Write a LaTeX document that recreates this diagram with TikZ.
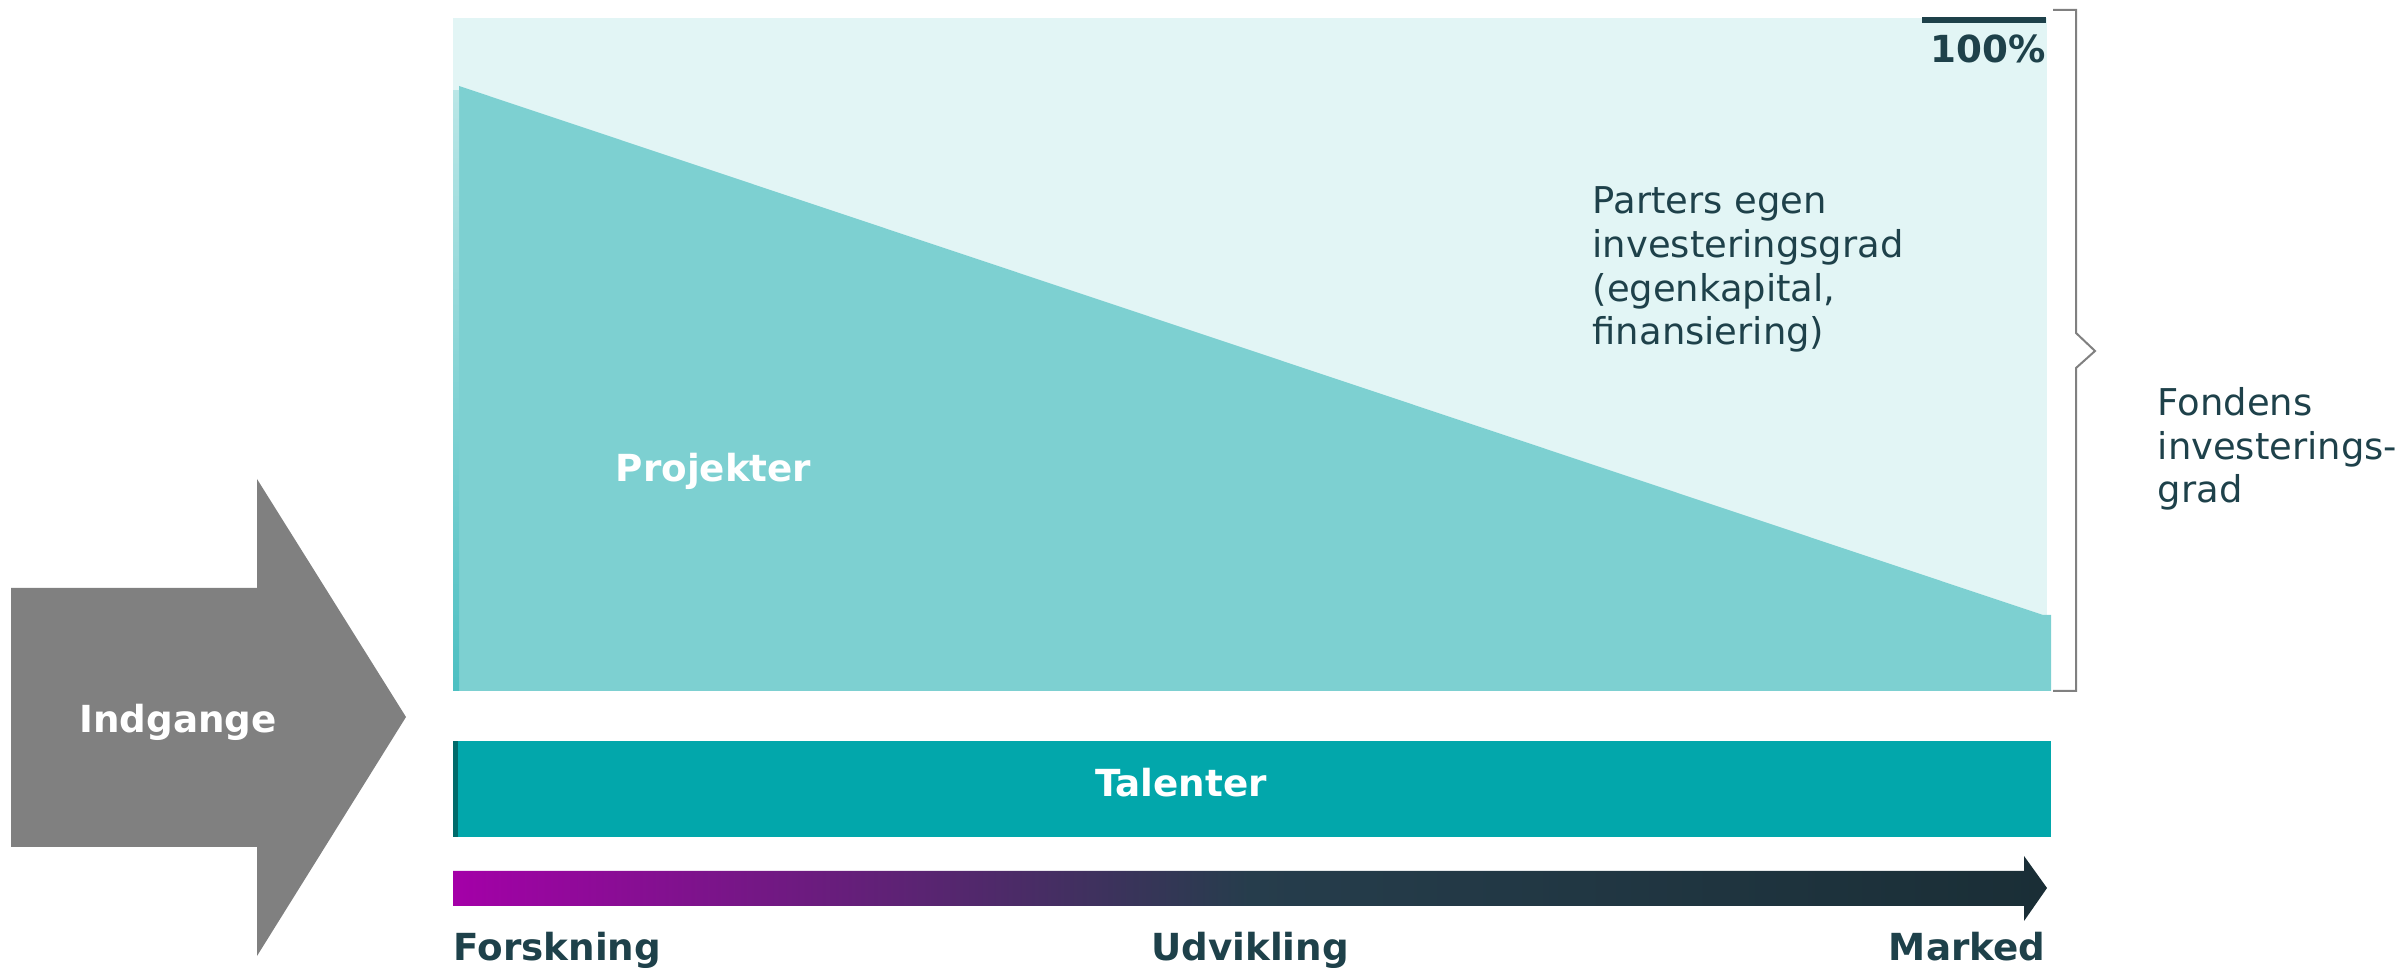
\documentclass[tikz,border=0pt]{standalone}
\usepackage{fontspec}
\setmainfont{DejaVu Sans}
\usepackage{tikz}

\definecolor{lightbg}{HTML}{E2F5F5}
\definecolor{projteal}{HTML}{7DD0D1}
\definecolor{talentteal}{HTML}{02A7AB}
\definecolor{darkteal}{HTML}{006B6B}
\definecolor{darktext}{HTML}{1E414A}
\definecolor{arrowgray}{HTML}{808080}
\definecolor{forskcol}{HTML}{A400A8}
\definecolor{udvcol}{HTML}{263D4C}
\definecolor{markcol}{HTML}{1A2E36}

\tikzset{
    bodytext/.style={font=\fontsize{10.5pt}{12.5pt}\selectfont, text=darktext, align=left, inner sep=0pt},
    boldtext/.style={font=\fontsize{10.6pt}{12.5pt}\selectfont\bfseries, inner sep=0pt},
}

\begin{document}
\begin{tikzpicture}[x=0.01cm, y=-0.01cm]
        \useasboundingbox (0,0) rectangle (2404,968);

        % Background of the investment area
        \fill[lightbg] (453,18) rectangle (2047,691);

        % Projects wedge
        \fill[projteal] (459,86) -- (2043,615) -- (2051,615) -- (2051,691) -- (459,691) -- cycle;
        \shade[top color=lightbg!60!projteal, bottom color=projteal!60!talentteal] (453,91) rectangle (459,691);
        \node[boldtext, text=white, anchor=base west] (projekter) at (615,482) {Projekter};

        % 100% marker
        \draw[darktext, line width=0.06cm] (1922,20) -- (2046,20);
        \node[boldtext, text=darktext, anchor=base east] (hundred) at (2046,63) {100\%};

        % Partners' own share (anchored at the last line)
        \node[bodytext, anchor=base west] (parters) at (1592,345)
            {Parters egen\\investeringsgrad\\(egenkapital,\\finansiering)};

        % Bracket for the fund's share
        \draw[arrowgray, line width=0.02cm] (2053,10) -- (2076,10) -- (2076,333) -- (2095,351)
            -- (2076,368) -- (2076,691) -- (2053,691);
        \node[bodytext, anchor=base west] (fondens) at (2157,503)
            {Fondens\\investerings-\\grad};

        % Talents bar
        \fill[talentteal] (453,741) rectangle (2051,837);
        \fill[darkteal] (453,741) rectangle (458,837);
        \node[boldtext, text=white, anchor=base] (talenter) at (1181,797) {Talenter};

        % Entry arrow
        \fill[arrowgray] (11,588) -- (257,588) -- (257,479) -- (406,717) -- (257,956)
            -- (257,847) -- (11,847) -- cycle;
        \node[boldtext, text=white, anchor=base] (indgange) at (178,733) {Indgange};

        % Stage arrow with gradient
        \shade[left color=forskcol, right color=markcol, middle color=udvcol]
            (453,871) -- (2024,871) -- (2024,856) -- (2047,888) -- (2024,921)
            -- (2024,906) -- (453,906) -- cycle;

        % Stage labels
        \foreach \x/\anc/\name/\txt in {453/base west/forskning/Forskning, 1250/base/udvikling/Udvikling, 2046/base east/marked/Marked} {
            \node[boldtext, text=darktext, anchor=\anc] (\name) at (\x,960) {\txt};
        }
    \end{tikzpicture}
\end{document}
